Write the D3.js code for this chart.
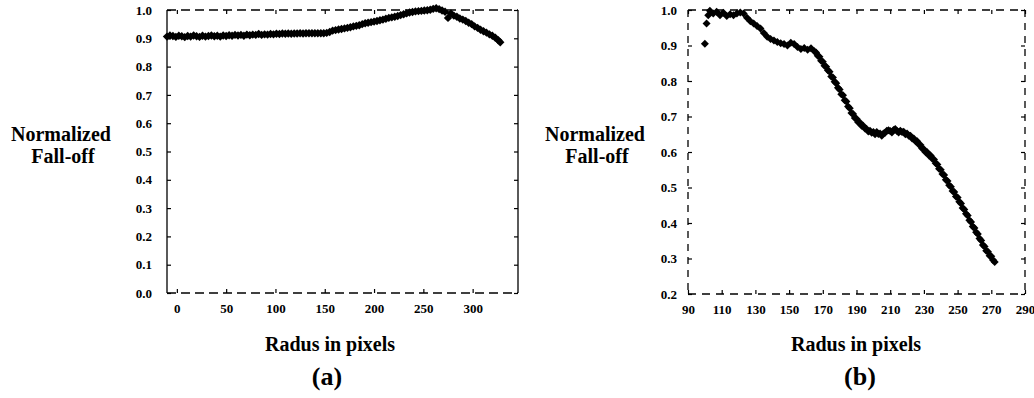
<!DOCTYPE html>
<html lang="en">
<head>
  <meta charset="utf-8">
  <script src="https://d3js.org/d3.v7.min.js"></script>
  <style>
    body { margin: 0; background: #fff; }
    svg { display: block; font-family: "Liberation Serif", "Times New Roman", serif; font-weight: bold; }
    .tick text { font-size: 13px; font-weight: bold; fill: #000; font-family: "Liberation Serif", serif; }
    .tick line { stroke: #000; stroke-width: 1.2; }
    .label { font-size: 20px; fill: #000; }
    .caption { font-size: 26px; fill: #000; }
  </style>
</head>
<body>
<svg id="chart" width="1034" height="398"></svg>
<script>
  // panel (a) readings
  var radiusA = [-10,-7,-4,-1,2,5,8,11,14,17,20,23,26,29,32,35,38,41,44,47,50,53,56,59,62,65,68,71,74,77,
    80,83,86,89,92,95,98,101,104,107,110,113,116,119,122,125,128,131,134,137,140,143,146,149,152,155,158,161,164,167,
    170,173,176,179,182,185,188,191,194,197,200,203,206,209,212,215,218,221,224,227,230,233,236,239,242,245,248,251,254,257,
    260,263,266,269,272,275,278,281,284,287,290,293,296,299,302,305,308,311,314,317,320,323,326,328];
  var falloffA = [0.906,0.910,0.908,0.905,0.909,0.907,0.904,0.908,0.906,0.910,0.907,0.905,0.909,0.906,0.908,0.910,0.907,0.909,0.906,0.910,
    0.908,0.911,0.909,0.912,0.910,0.912,0.909,0.913,0.911,0.913,0.912,0.915,0.912,0.914,0.913,0.915,0.914,0.916,0.915,0.917,
    0.916,0.917,0.916,0.917,0.917,0.918,0.917,0.918,0.918,0.918,0.918,0.918,0.918,0.918,0.919,0.922,0.927,0.929,0.931,0.933,
    0.935,0.937,0.939,0.942,0.944,0.946,0.950,0.953,0.955,0.957,0.959,0.961,0.964,0.966,0.969,0.972,0.974,0.976,0.979,0.982,
    0.985,0.988,0.991,0.993,0.995,0.996,0.997,0.998,0.999,1.001,1.004,1.006,1.003,0.998,0.994,0.972,0.988,0.980,0.976,0.970,
    0.966,0.961,0.955,0.950,0.942,0.937,0.930,0.925,0.920,0.914,0.909,0.902,0.893,0.886];

  // panel (b) readings
  var radiusB = [100,101,102,103,105,107,109,111,113,115,117,119,121,123,125,127,129,131,133,135,137,139,141,143,145,147,149,151,153,155,
    157,159,161,163,165,166,167,168,169,170,171,172,173,174,175,176,177,178,179,180,181,182,183,184,185,186,187,188,189,190,
    191,192,193,194,195,196,197,198,199,200,201,202,203,204,205,206,207,208,209,210,211,212,213,214,215,216,217,218,219,220,
    221,222,223,224,225,226,227,228,229,230,231,232,233,234,235,236,237,238,239,240,241,242,243,244,245,246,247,248,249,250,
    251,252,253,254,255,256,257,258,259,260,261,262,263,264,265,266,267,268,269,270,271,272];
  var falloffB = [0.905,0.962,0.985,0.998,0.990,0.995,0.985,0.992,0.983,0.988,0.985,0.990,0.993,0.990,0.978,0.968,0.962,0.955,0.948,0.935,
    0.925,0.918,0.914,0.910,0.906,0.904,0.900,0.908,0.904,0.896,0.890,0.893,0.888,0.892,0.884,0.880,0.871,0.868,0.857,0.854,
    0.843,0.840,0.830,0.826,0.813,0.810,0.798,0.794,0.781,0.776,0.763,0.760,0.746,0.742,0.728,0.723,0.710,0.707,0.696,0.694,
    0.684,0.683,0.674,0.674,0.666,0.665,0.658,0.660,0.654,0.656,0.650,0.656,0.651,0.652,0.646,0.652,0.654,0.660,0.661,0.659,
    0.655,0.662,0.665,0.659,0.655,0.660,0.656,0.657,0.650,0.652,0.646,0.646,0.638,0.638,0.630,0.630,0.621,0.620,0.610,0.608,
    0.599,0.599,0.590,0.590,0.581,0.579,0.568,0.565,0.553,0.550,0.538,0.535,0.522,0.518,0.506,0.502,0.490,0.487,0.475,0.472,
    0.460,0.455,0.442,0.438,0.426,0.421,0.408,0.403,0.390,0.386,0.374,0.369,0.356,0.351,0.338,0.334,0.322,0.319,0.308,0.306,
    0.296,0.290];

  var ticksXA = [0, 50, 100, 150, 200, 250, 300];
  var ticksYA = [0, 0.1, 0.2, 0.3, 0.4, 0.5, 0.6, 0.7, 0.8, 0.9, 1.0];
  var ticksXB = [90, 110, 130, 150, 170, 190, 210, 230, 250, 270, 290];
  var ticksYB = [0.2, 0.3, 0.4, 0.5, 0.6, 0.7, 0.8, 0.9, 1.0];

  var svg = d3.select("#chart");

  function diamond(s) {
    return "M0," + (-s) + "L" + s + ",0L0," + s + "L" + (-s) + ",0Z";
  }

  function panel(opt) {
    var x = d3.scaleLinear().domain(opt.xDomain).range([opt.left, opt.right]);
    var y = d3.scaleLinear().domain(opt.yDomain).range([opt.bottom, opt.top]);
    var g = svg.append("g");

    // borders
    var sides = [
      {x1: opt.left, y1: opt.bottom, x2: opt.right, y2: opt.bottom, dash: opt.dashH},
      {x1: opt.left, y1: opt.top, x2: opt.right, y2: opt.top, dash: opt.dashH},
      {x1: opt.left, y1: opt.top, x2: opt.left, y2: opt.bottom, dash: opt.dashV},
      {x1: opt.right, y1: opt.top, x2: opt.right, y2: opt.bottom, dash: opt.dashV}
    ];
    g.selectAll("line.border").data(sides).enter().append("line")
      .attr("class", "border")
      .attr("x1", d => d.x1).attr("y1", d => d.y1)
      .attr("x2", d => d.x2).attr("y2", d => d.y2)
      .attr("stroke", "#000").attr("stroke-width", 1.3)
      .attr("stroke-dasharray", d => d.dash);

    // axes, ticks pointing inward
    g.append("g").attr("transform", "translate(0," + opt.bottom + ")")
      .call(d3.axisBottom(x).tickValues(opt.ticksX).tickSize(-4).tickPadding(11).tickFormat(d3.format("d")))
      .call(a => a.select(".domain").remove());
    g.append("g").attr("transform", "translate(0," + opt.top + ")")
      .call(d3.axisTop(x).tickValues(opt.ticksX).tickSize(-4).tickFormat(""))
      .call(a => a.select(".domain").remove());
    g.append("g").attr("transform", "translate(" + opt.left + ",0)")
      .call(d3.axisLeft(y).tickValues(opt.ticksY).tickSize(-4).tickPadding(opt.yPad).tickFormat(d3.format(".1f")))
      .call(a => a.select(".domain").remove());
    g.append("g").attr("transform", "translate(" + opt.right + ",0)")
      .call(d3.axisRight(y).tickValues(opt.ticksY).tickSize(-4).tickFormat(""))
      .call(a => a.select(".domain").remove());
    g.selectAll(".tick text").attr("font-family", null).attr("font-size", null);

    // points
    g.append("g").selectAll("path")
      .data(opt.xs.map((r, i) => [r, opt.ys[i]]))
      .enter().append("path")
      .attr("d", diamond(opt.mark))
      .attr("transform", d => "translate(" + x(d[0]) + "," + y(d[1]) + ")")
      .attr("fill", "#000");

    // labels
    g.append("text").attr("class", "label").attr("text-anchor", "middle")
      .attr("x", opt.yLabelX).attr("y", 141).text("Normalized");
    g.append("text").attr("class", "label").attr("text-anchor", "middle")
      .attr("x", opt.yLabelX + 2).attr("y", 163).text("Fall-off");
    g.append("text").attr("class", "label").attr("text-anchor", "middle")
      .attr("x", opt.xLabelX).attr("y", 351).text("Radus in pixels");
    g.append("text").attr("class", "caption").attr("text-anchor", "middle")
      .attr("x", opt.capX).attr("y", 385).text(opt.caption);
  }

  panel({
    xs: radiusA, ys: falloffA, mark: 4.2,
    xDomain: [-10, 346], yDomain: [0, 1],
    left: 167, right: 518, top: 10, bottom: 293,
    ticksX: ticksXA, ticksY: ticksYA, yPad: 15,
    dashH: "9,5", dashV: null,
    yLabelX: 61, xLabelX: 330, capX: 327, caption: "(a)"
  });

  panel({
    xs: radiusB, ys: falloffB, mark: 4,
    xDomain: [90, 290], yDomain: [0.2, 1],
    left: 688, right: 1025, top: 10, bottom: 294,
    ticksX: ticksXB, ticksY: ticksYB, yPad: 11,
    dashH: "8,6", dashV: "7,6",
    yLabelX: 595, xLabelX: 856, capX: 860, caption: "(b)"
  });
</script>
</body>
</html>
